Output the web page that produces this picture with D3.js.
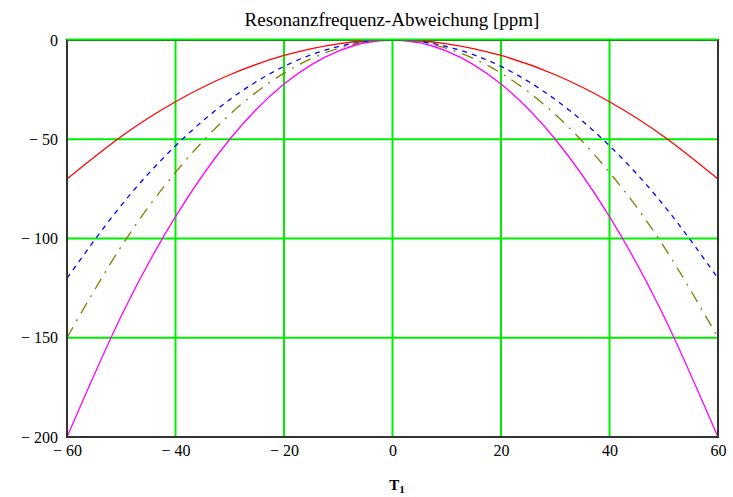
<!DOCTYPE html>
<html>
<head>
<meta charset="utf-8">
<script src="https://cdn.jsdelivr.net/npm/d3@7"></script>
<style>
  body { margin: 0; background: #fff; }
  text { font-family: "Liberation Serif", "DejaVu Serif", serif; fill: #000; }
</style>
</head>
<body>
<script>
// temperatures T1 and the four curves (ppm)
var temps = [-60, -50, -40, -30, -20, -10, 0, 10, 20, 30, 40, 50, 60];
var redVals = [-70, -48.6, -31.1, -17.5, -7.8, -1.9, 0, -1.9, -7.8, -17.5, -31.1, -48.6, -70];
var blueVals = [-120, -83.3, -53.3, -30, -13.3, -3.3, 0, -3.3, -13.3, -30, -53.3, -83.3, -120];
var oliveVals = [-150, -104, -66.7, -37.5, -16.7, -4.2, 0, -4.2, -16.7, -37.5, -66.7, -104, -150];
var magentaVals = [-200, -139, -89, -50, -22.2, -5.6, 0, -5.6, -22.2, -50, -89, -139, -200];
var xTicks = [-60, -40, -20, 0, 20, 40, 60];
var yTicks = [0, -50, -100, -150, -200];

var width = 733, height = 497;
var margin = { top: 40, right: 15, bottom: 60, left: 67 };

var svg = d3.select("body").append("svg")
  .attr("width", width)
  .attr("height", height);

var x = d3.scaleLinear().domain([-60, 60]).range([margin.left, width - margin.right]);
var y = d3.scaleLinear().domain([-200, 0]).range([height - margin.bottom, margin.top]);

function fmt(d) { return d < 0 ? "\u2212 " + Math.abs(d) : "" + d; }

// grid
svg.append("g").selectAll("line").data(xTicks.slice(1, -1)).enter().append("line")
  .attr("x1", function(d) { return x(d); }).attr("x2", function(d) { return x(d); })
  .attr("y1", y(0)).attr("y2", y(-200))
  .attr("stroke", "#00ee00").attr("stroke-width", 2);
svg.append("g").selectAll("line").data(yTicks.slice(1, -1)).enter().append("line")
  .attr("y1", function(d) { return y(d); }).attr("y2", function(d) { return y(d); })
  .attr("x1", x(-60)).attr("x2", x(60))
  .attr("stroke", "#00ee00").attr("stroke-width", 2);

// curves
var series = [
  { vals: redVals, color: "#ff0000", dash: null },
  { vals: blueVals, color: "#0000ff", dash: "5,5" },
  { vals: oliveVals, color: "#808000", dash: "12,7,2,7" },
  { vals: magentaVals, color: "#ff00ff", dash: null }
];

var line = d3.line()
  .x(function(d) { return x(d[0]); })
  .y(function(d) { return y(d[1]); })
  .curve(d3.curveNatural);

series.forEach(function(s) {
  svg.append("path")
    .datum(temps.map(function(t, i) { return [t, s.vals[i]]; }))
    .attr("d", line)
    .attr("fill", "none")
    .attr("stroke", s.color)
    .attr("stroke-width", 1.3)
    .attr("stroke-dasharray", s.dash);
});

// frame
svg.append("rect")
  .attr("x", x(-60)).attr("y", y(0))
  .attr("width", x(60) - x(-60)).attr("height", y(-200) - y(0))
  .attr("fill", "none").attr("stroke", "#333").attr("stroke-width", 2);
svg.append("line")
  .attr("x1", x(-60)).attr("x2", x(60)).attr("y1", y(0) - 0.5).attr("y2", y(0) - 0.5)
  .attr("stroke", "#00ee00").attr("stroke-width", 2);

// tick labels
var xAxis = d3.axisBottom(x).tickValues(xTicks).tickSize(0).tickPadding(8).tickFormat(fmt);
svg.append("g").attr("transform", "translate(0," + y(-200) + ")").call(xAxis)
  .call(function(g) { g.select(".domain").remove(); })
  .selectAll("text").style("font-size", "16px").attr("font-family", null);

var yAxis = d3.axisLeft(y).tickValues(yTicks).tickSize(0).tickPadding(9).tickFormat(fmt);
svg.append("g").attr("transform", "translate(" + x(-60) + ",0)").call(yAxis)
  .call(function(g) { g.select(".domain").remove(); })
  .selectAll("text").style("font-size", "16px").attr("font-family", null);

// title
svg.append("text")
  .attr("x", 392).attr("y", 26)
  .attr("text-anchor", "middle")
  .style("font-size", "19px")
  .text("Resonanzfrequenz-Abweichung [ppm]");

// x label
var xl = svg.append("text")
  .attr("x", 397).attr("y", 490)
  .attr("text-anchor", "middle")
  .style("font-size", "15px")
  .style("font-weight", "bold");
xl.append("tspan").text("T");
xl.append("tspan").attr("dy", 3).style("font-size", "11px").text("1");
</script>
</body>
</html>
